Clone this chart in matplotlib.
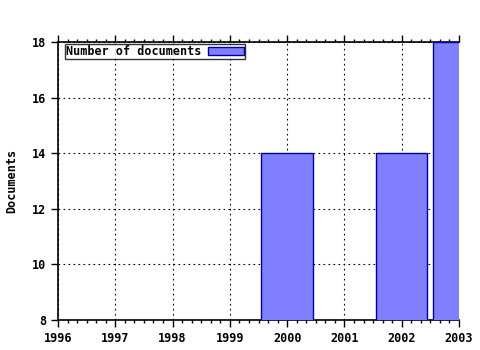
import matplotlib
matplotlib.use("Agg")
import matplotlib.pyplot as plt
from matplotlib.ticker import MultipleLocator

years = [2000, 2002, 2003]
documents = [14, 14, 18]
series_label = "Number of documents"
x_ticks = [1996, 1997, 1998, 1999, 2000, 2001, 2002, 2003]
y_ticks = [8, 10, 12, 14, 16, 18]

plt.rcParams['font.family'] = 'DejaVu Sans Mono'
plt.rcParams['font.weight'] = 'bold'

fig = plt.figure(figsize=(4.8, 3.5), dpi=100)
ax = fig.add_axes([58/480, 30/350, 401/480, 278/350])

ax.bar(years, documents, width=0.9, color='#8080ff', edgecolor='#000099',
       linewidth=1, label=series_label, zorder=3)

ax.set_xlim(1996, 2003)
ax.set_ylim(8, 18)
ax.set_xticks(x_ticks)
ax.set_yticks(y_ticks)
ax.xaxis.set_minor_locator(MultipleLocator(1/6))
ax.tick_params(axis='both', which='major', direction='out', length=5,
               labelsize=8.5, width=1)
ax.tick_params(axis='x', which='minor', direction='out', length=2.5, width=1,
               top=True, bottom=True)
ax.tick_params(axis='x', which='major', top=True)
ax.grid(True, which='major', color='black', linestyle=(0, (1.5, 3)), linewidth=0.8)
ax.set_axisbelow(True)
for s in ax.spines.values():
    s.set_linewidth(1.2)
ax.spines['right'].set_visible(False)

ax.set_ylabel("Documents", fontsize=8.5, fontweight='bold', labelpad=10)

leg = ax.legend(loc='upper left', bbox_to_anchor=(0.012, 1.0), markerfirst=False,
                fontsize=8.5, frameon=True, fancybox=False, borderpad=0.1,
                handlelength=3.0, handleheight=0.6, borderaxespad=0.15,
                handletextpad=0.6)
leg.get_frame().set_edgecolor('black')
leg.get_frame().set_linewidth(1)

fig.savefig("out.png", dpi=100)
